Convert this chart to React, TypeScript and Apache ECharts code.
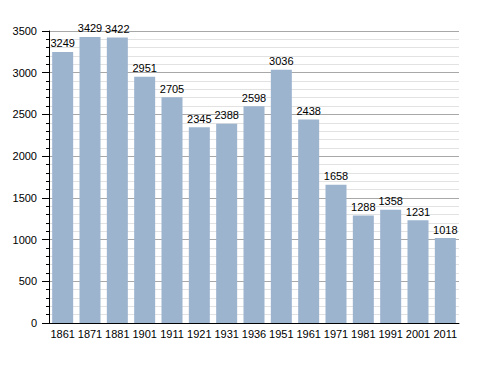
import React, { useEffect, useRef } from "react";
import * as echarts from "echarts";

const years = ["1861", "1871", "1881", "1901", "1911", "1921", "1931", "1936", "1951", "1961", "1971", "1981", "1991", "2001", "2011"];
const population = [3249, 3429, 3422, 2951, 2705, 2345, 2388, 2598, 3036, 2438, 1658, 1288, 1358, 1231, 1018];

export default function App() {
  const ref = useRef<HTMLDivElement>(null);
  useEffect(() => {
    const chart = echarts.init(ref.current!, null, { renderer: "svg" });
    const font = "'Liberation Sans', Arial, sans-serif";
    chart.setOption({
      animation: false,
      backgroundColor: "#ffffff",
      grid: { left: 49, right: 29, top: 31, bottom: 50, containLabel: false },
      xAxis: {
        type: "category",
        data: years,
        axisLine: { lineStyle: { color: "#000", width: 1 } },
        axisTick: { show: false },
        axisLabel: { color: "#000", fontSize: 11, fontFamily: font, margin: 5, interval: 0 },
      },
      yAxis: {
        type: "value",
        min: 0,
        max: 3500,
        interval: 500,
        axisLine: { show: true, lineStyle: { color: "#000", width: 1 } },
        axisTick: { show: true, length: 7, lineStyle: { color: "#000" } },
        minorTick: { show: true, splitNumber: 5, length: 3, lineStyle: { color: "#000" } },
        splitLine: { show: true, lineStyle: { color: "#a8a8a8", width: 1 } },
        minorSplitLine: { show: true, lineStyle: { color: "#e2e2e2", width: 1 } },
        axisLabel: {
          color: "#000",
          fontSize: 11,
          fontFamily: font,
          margin: 12,
          formatter: (v: number) => String(v),
        },
      },
      series: [
        {
          type: "bar",
          data: population,
          barWidth: 21,
          itemStyle: { color: "#9db4cf" },
          label: {
            show: true,
            position: "top",
            distance: 3,
            color: "#000",
            fontSize: 11,
            fontFamily: font,
          },
        },
      ],
    });
    return () => chart.dispose();
  }, []);
  return (
    <div
      ref={ref}
      style={{ position: "fixed", left: 0, top: 0, width: 488, height: 373, background: "#fff" }}
    />
  );
}
